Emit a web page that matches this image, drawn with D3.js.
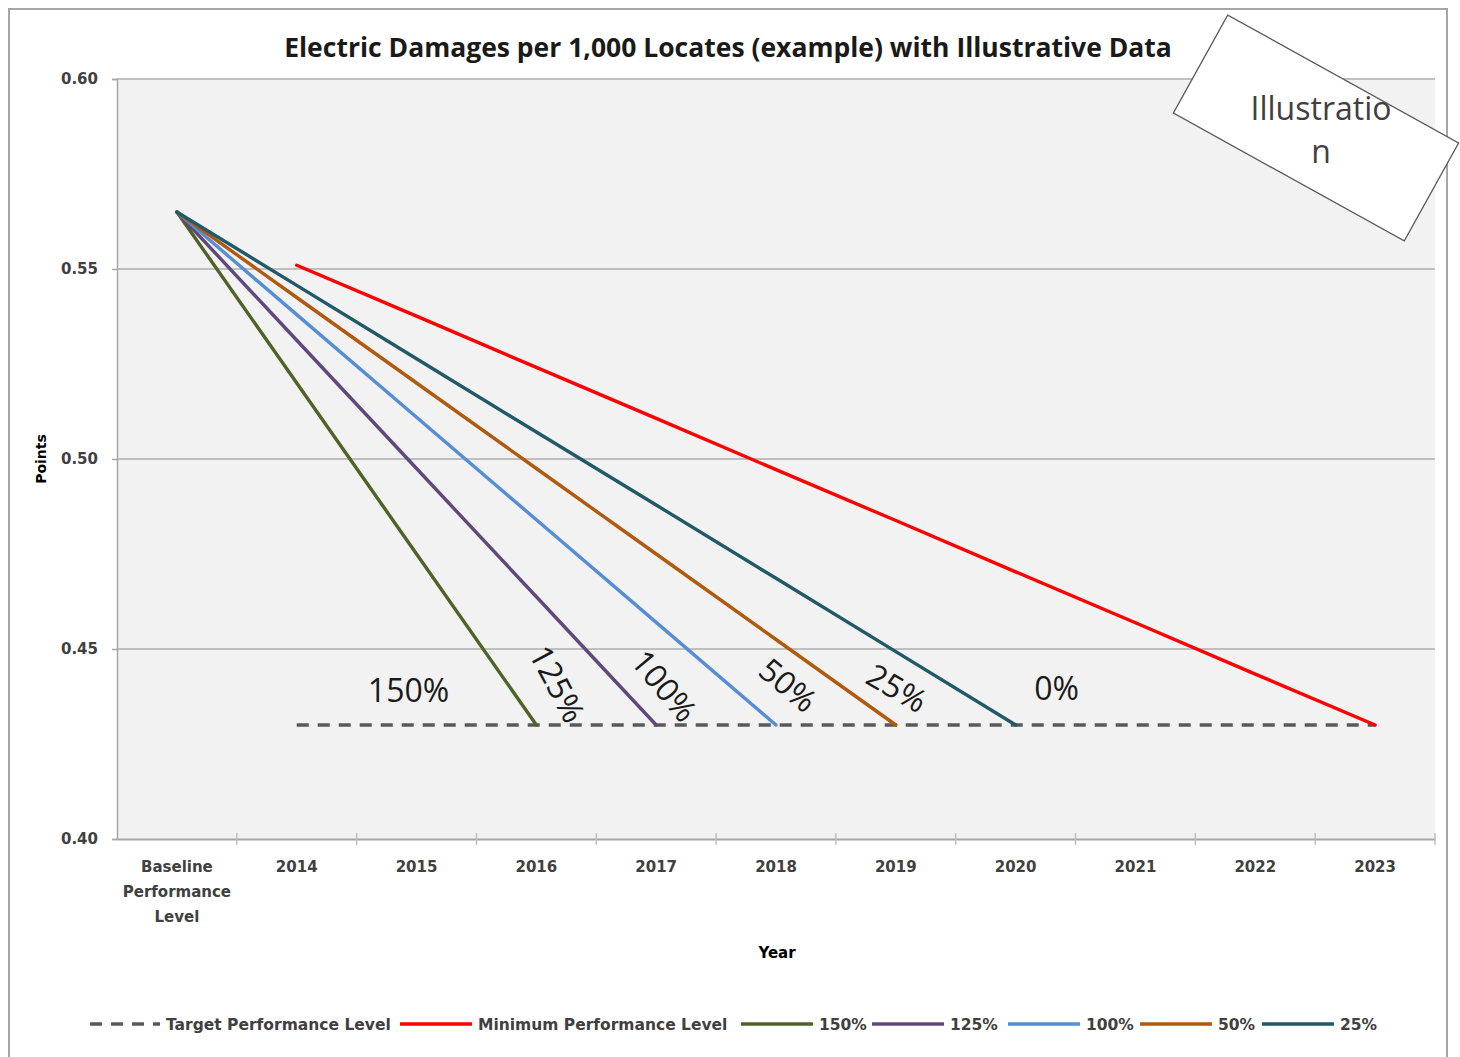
<!DOCTYPE html>
<html><head><meta charset="utf-8">
<script src="https://cdn.jsdelivr.net/npm/d3@7"></script>
<style>body{margin:0;background:#fff}svg{display:block}</style>
</head><body>
<script>
const categories = ["Baseline Performance Level","2014","2015","2016","2017","2018","2019","2020","2021","2022","2023"];
const yTicks = [0.40,0.45,0.50,0.55,0.60];
const targetYears = ["2014","2015","2016","2017","2018","2019","2020","2021","2022","2023"];
const targetValues = [0.43,0.43,0.43,0.43,0.43,0.43,0.43,0.43,0.43,0.43];
const minYears = ["2014","2015","2016","2017","2018","2019","2020","2021","2022","2023"];
const minValues = [0.551,0.5376,0.5241,0.5107,0.4972,0.4838,0.4703,0.4569,0.4434,0.430];
const s150Cats = ["Baseline Performance Level","2014","2015","2016"];
const s150Values = [0.565,0.520,0.475,0.430];
const s125Cats = ["Baseline Performance Level","2014","2015","2016","2017"];
const s125Values = [0.565,0.53125,0.4975,0.46375,0.430];
const s100Cats = ["Baseline Performance Level","2014","2015","2016","2017","2018"];
const s100Values = [0.565,0.538,0.511,0.484,0.457,0.430];
const s50Cats = ["Baseline Performance Level","2014","2015","2016","2017","2018","2019"];
const s50Values = [0.565,0.5425,0.520,0.4975,0.475,0.4525,0.430];
const s25Cats = ["Baseline Performance Level","2014","2015","2016","2017","2018","2019","2020"];
const s25Values = [0.565,0.5457,0.5264,0.5071,0.4879,0.4686,0.4493,0.430];
const annoLabels = ["150%","125%","100%","50%","25%","0%"];
const annoCats = ["2015","2016","2017","2018","2019","2020"];
const annoValues = [0.4392,0.4408,0.4403,0.4405,0.4397,0.4395];
const annoAngles = [0,62,50,40,30,0];
const annoDx = [-8,21,8,12,1,41];
const legendLabels = ["Target Performance Level","Minimum Performance Level","150%","125%","100%","50%","25%"];
const colors = {target:"#595959", min:"#ff0000", s150:"#4f6228", s125:"#60497a", s100:"#558ed5", s50:"#b05a0f", s25:"#215968"};

const W=1460,H=1057;
const svg=d3.select("body").append("svg").attr("width",W).attr("height",H);
const F="'DejaVu Sans', sans-serif";
const FT="'Open Sans', sans-serif";

// outer frame
svg.append("rect").attr("x",9).attr("y",9).attr("width",1438).attr("height",1060)
  .attr("fill","#fff").attr("stroke","#a6a6a6").attr("stroke-width",2);

const L=117,R=1435,T=79,B=839;
const x=d3.scaleBand().domain(categories).range([L,R]).padding(0);
const cx=c=>x(c)+x.bandwidth()/2;
const y=d3.scaleLinear().domain([0.40,0.60]).range([B,T]);

svg.append("rect").attr("x",L).attr("y",T).attr("width",R-L).attr("height",B-T).attr("fill","#f2f2f2");

// gridlines
svg.append("g").selectAll("line").data(yTicks.filter(v=>v>0.40)).join("line")
  .attr("x1",L).attr("x2",R).attr("y1",d=>y(d)).attr("y2",d=>y(d))
  .attr("stroke","#bfbfbf").attr("stroke-width",2);

// y axis
const ya=svg.append("g").attr("transform",`translate(${L},0)`)
  .call(d3.axisLeft(y).tickValues(yTicks).tickFormat(d3.format(".2f")).tickSize(5).tickPadding(14));
ya.select(".domain").attr("stroke","#a6a6a6").attr("stroke-width",1.5);
ya.selectAll(".tick line").attr("stroke","#a6a6a6").attr("stroke-width",1.5);
ya.selectAll("text").attr("font-family",F).attr("font-weight","bold").attr("font-size",15).attr("fill","#404040");

// x axis
const xa=svg.append("g").attr("transform",`translate(0,${B})`)
  .call(d3.axisBottom(x).tickSize(0).tickFormat(""));
xa.select(".domain").attr("stroke","#a6a6a6").attr("stroke-width",2);
svg.append("g").selectAll("line").data(categories.slice(1).concat(["_end"])).join("line")
  .attr("x1",d=>d==="_end"?R:x(d)).attr("x2",d=>d==="_end"?R:x(d))
  .attr("y1",B-6).attr("y2",B+6).attr("stroke","#bfbfbf").attr("stroke-width",1.5);
const xl=svg.append("g").selectAll("text").data(categories).join("text")
  .attr("x",d=>cx(d)).attr("y",B+33).attr("text-anchor","middle")
  .attr("font-family",F).attr("font-weight","bold").attr("font-size",15).attr("fill","#404040");
xl.each(function(d){
  const words=d.split(" ");
  d3.select(this).selectAll("tspan").data(words).join("tspan")
    .attr("x",cx(d)).attr("dy",(w,i)=>i===0?0:25).text(w=>w);
});

// axis titles
svg.append("text").attr("x",777).attr("y",958).attr("text-anchor","middle")
  .attr("font-family",F).attr("font-weight","bold").attr("font-size",15).attr("fill","#000").text("Year");
svg.append("text").attr("transform","translate(46,459) rotate(-90)").attr("text-anchor","middle")
  .attr("font-family",F).attr("font-weight","bold").attr("font-size",14).attr("fill","#000").text("Points");

// title
svg.append("text").attr("x",728).attr("y",57).attr("text-anchor","middle")
  .attr("font-family",FT).attr("font-weight","bold").attr("font-size",26.5).attr("fill","#1a1a1a")
  .text("Electric Damages per 1,000 Locates (example) with Illustrative Data");

const line=d3.line().x(d=>cx(d[0])).y(d=>y(d[1]));
const zip=(a,b)=>a.map((v,i)=>[v,b[i]]);
const series=[
  {cats:targetYears,vals:targetValues,color:colors.target,dash:"12,9"},
  {cats:s150Cats,vals:s150Values,color:colors.s150},
  {cats:s125Cats,vals:s125Values,color:colors.s125},
  {cats:s100Cats,vals:s100Values,color:colors.s100},
  {cats:s50Cats,vals:s50Values,color:colors.s50},
  {cats:s25Cats,vals:s25Values,color:colors.s25},
  {cats:minYears,vals:minValues,color:colors.min},
];
svg.append("g").selectAll("path").data(series).join("path")
  .attr("d",s=>line(zip(s.cats,s.vals))).attr("fill","none")
  .attr("stroke",s=>s.color).attr("stroke-width",3.4).attr("stroke-linecap",s=>s.dash?"butt":"round")
  .attr("stroke-dasharray",s=>s.dash||null);

// annotations
svg.append("g").selectAll("text").data(annoLabels).join("text")
  .attr("transform",(d,i)=>`translate(${cx(annoCats[i])+annoDx[i]},${y(annoValues[i])}) rotate(${annoAngles[i]})`)
  .attr("text-anchor","middle").attr("dy","0.36em").attr("font-family",FT).attr("font-size",32).attr("fill","#1a1a1a")
  .text(d=>d);

// illustration stamp
const stamp=svg.append("g").attr("transform","translate(1316,128) rotate(29)");
stamp.append("rect").attr("x",-132).attr("y",-56).attr("width",264).attr("height",112)
  .attr("fill","#fff").attr("stroke","#595959").attr("stroke-width",1.3);
svg.append("text").attr("x",1321).attr("y",120).attr("text-anchor","middle")
  .attr("font-family",FT).attr("font-size",32).attr("fill","#404040").text("Illustratio");
svg.append("text").attr("x",1321).attr("y",163).attr("text-anchor","middle")
  .attr("font-family",FT).attr("font-size",32).attr("fill","#404040").text("n");

// legend
const legColors=[colors.target,colors.min,colors.s150,colors.s125,colors.s100,colors.s50,colors.s25];
const legX=[90,400,741,872,1008,1140,1262];
const leg=svg.append("g").selectAll("g").data(legendLabels).join("g")
  .attr("transform",(d,i)=>`translate(${legX[i]},1024)`);
leg.append("line").attr("x1",0).attr("x2",(d,i)=>i===0?70:72).attr("y1",0).attr("y2",0)
  .attr("stroke",(d,i)=>legColors[i]).attr("stroke-width",3.4)
  .attr("stroke-dasharray",(d,i)=>i===0?"12,9":null);
leg.append("text").attr("x",(d,i)=>i===0?76:78).attr("y",5.5)
  .attr("font-family",F).attr("font-weight","bold").attr("font-size",15.5).attr("fill","#404040").text(d=>d);
</script>
</body></html>
